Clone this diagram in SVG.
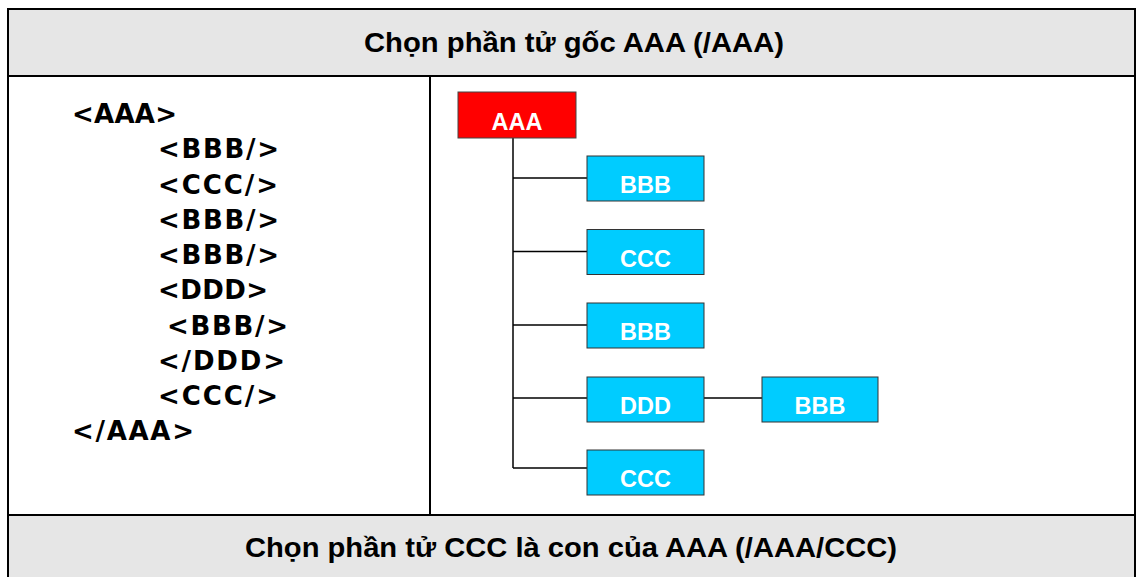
<svg xmlns="http://www.w3.org/2000/svg" width="1136" height="577" viewBox="0 0 1136 577">
<style>
.hdr{fill:#e6e6e6;stroke:none}
.grid{stroke:#000;stroke-width:2;fill:none}
.title{font-family:"Liberation Sans",Arial,sans-serif;font-weight:bold;font-size:28px;fill:#000;text-anchor:middle}
.code{font-family:"DejaVu Sans",Verdana,sans-serif;font-weight:bold;font-size:26px;fill:#000}
.root{fill:#ff0000;stroke:#444;stroke-width:1}
.child{fill:#00ccff;stroke:#333;stroke-width:1}
.lbl{font-family:"Liberation Sans",Arial,sans-serif;font-weight:bold;font-size:23.5px;fill:#fff;text-anchor:middle}
.conn{stroke:#000;stroke-width:1.5;fill:none}
</style>
<rect x="0" y="0" width="1136" height="577" fill="#fff"/>
<g id="table">
<rect class="hdr" x="8" y="9" width="1127" height="67"/>
<rect class="hdr" x="8" y="515" width="1127" height="70"/>
<rect class="grid" x="8" y="9" width="1127" height="580"/>
<line class="grid" x1="8" y1="76" x2="1135" y2="76"/>
<line class="grid" x1="8" y1="515" x2="1135" y2="515"/>
<line class="grid" x1="430" y1="76" x2="430" y2="515"/>
<text class="title" x="574" y="52" textLength="420" lengthAdjust="spacingAndGlyphs">Chọn phần tử gốc AAA (/AAA)</text>
<text class="title" x="571" y="557" textLength="652" lengthAdjust="spacingAndGlyphs">Chọn phần tử CCC là con của AAA (/AAA/CCC)</text>
</g>
<g id="xml-code">
<text class="code" x="72" y="123" textLength="105">&lt;AAA&gt;</text>
<text class="code" x="158" y="158" textLength="121">&lt;BBB/&gt;</text>
<text class="code" x="158" y="193.5" textLength="120">&lt;CCC/&gt;</text>
<text class="code" x="158" y="229" textLength="121">&lt;BBB/&gt;</text>
<text class="code" x="158" y="264" textLength="121">&lt;BBB/&gt;</text>
<text class="code" x="158" y="299" textLength="110">&lt;DDD&gt;</text>
<text class="code" x="167" y="334.5" textLength="121">&lt;BBB/&gt;</text>
<text class="code" x="158" y="370" textLength="127">&lt;/DDD&gt;</text>
<text class="code" x="158" y="405" textLength="120">&lt;CCC/&gt;</text>
<text class="code" x="72" y="440" textLength="122">&lt;/AAA&gt;</text>
</g>
<g id="connectors">
<line class="conn" x1="513" y1="138" x2="513" y2="468"/>
<line class="conn" x1="513" y1="178" x2="587" y2="178"/>
<line class="conn" x1="513" y1="251.5" x2="587" y2="251.5"/>
<line class="conn" x1="513" y1="325" x2="587" y2="325"/>
<line class="conn" x1="513" y1="398" x2="587" y2="398"/>
<line class="conn" x1="513" y1="468" x2="587" y2="468"/>
<line class="conn" x1="704" y1="398" x2="762" y2="398"/>
</g>
<g id="node-aaa">
<rect class="root" x="458" y="92" width="118" height="46"/>
<text class="lbl" x="517" y="130">AAA</text>
</g>
<g id="node-bbb1">
<rect class="child" x="587" y="156" width="117" height="45"/>
<text class="lbl" x="645.5" y="193">BBB</text>
</g>
<g id="node-ccc1">
<rect class="child" x="587" y="229.5" width="117" height="45"/>
<text class="lbl" x="645.5" y="266.5">CCC</text>
</g>
<g id="node-bbb2">
<rect class="child" x="587" y="303" width="117" height="45"/>
<text class="lbl" x="645.5" y="340">BBB</text>
</g>
<g id="node-ddd">
<rect class="child" x="587" y="377" width="117" height="45"/>
<text class="lbl" x="645.5" y="414">DDD</text>
</g>
<g id="node-bbb3">
<rect class="child" x="762" y="377" width="116" height="45"/>
<text class="lbl" x="820" y="414">BBB</text>
</g>
<g id="node-ccc2">
<rect class="child" x="587" y="450" width="117" height="45"/>
<text class="lbl" x="645.5" y="487">CCC</text>
</g>
</svg>
